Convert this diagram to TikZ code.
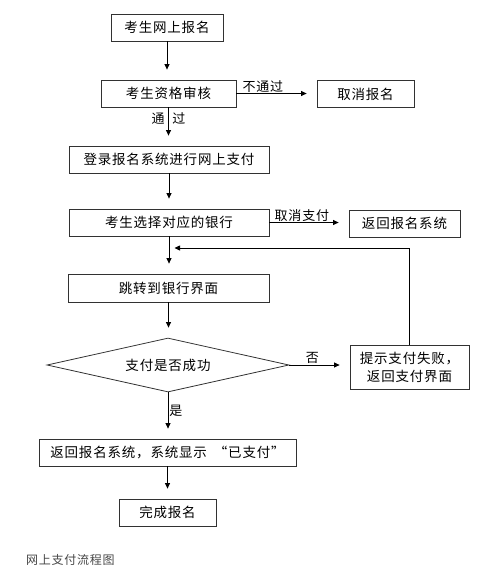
\documentclass[tikz,border=0pt]{standalone}
\usepackage{fontspec}
\setmainfont{Noto Sans CJK SC}[LetterSpace=6]
\usepackage{tikz}
\usetikzlibrary{shapes.geometric, arrows.meta, calc}
\definecolor{framegray}{RGB}{50,50,50}
\definecolor{captiongray}{RGB}{70,70,70}

\begin{document}
\begin{tikzpicture}[x=1pt, y=-1pt,
    box/.style={draw=framegray, line width=0.8pt, minimum height=27pt, inner sep=0pt, font=\fontsize{13.5}{18}\selectfont},
    flow/.style={-{Triangle[length=5.5pt,width=5pt]}, line width=0.8pt, shorten >=10pt},
    tag/.style={font=\fontsize{13}{15}\selectfont, inner sep=1pt}]
    \useasboundingbox (0,0) rectangle (500,568);

    % registration steps
    \node[box, minimum width=112pt] (signup) at (167,27.5) {考生网上报名};
    \node[box, minimum width=135pt] (audit) at (168.5,93.5) {考生资格审核};
    \node[box, minimum width=97pt] (cancel) at (365.5,94) {取消报名};
    \node[box, minimum width=200pt] (login) at (169,159.5) {登录报名系统进行网上支付};
    \node[box, minimum width=200pt] (bank) at (169,222.5) {考生选择对应的银行};
    \node[box, minimum width=111pt] (back) at (404.5,223.5) {返回报名系统};
    \node[box, minimum width=201pt, minimum height=28pt] (jump) at (168.5,288) {跳转到银行界面};

    % payment check
    \node[box, diamond, aspect=4.5, minimum width=242pt, minimum height=54pt] (check) at (168,365) {支付是否成功};
    \node[box, minimum width=119pt, minimum height=44pt, align=center] (fail) at (409.5,367) {提示支付失败，\\返回支付界面};
    \node[box, minimum width=257pt] (paid) at (167.5,452.5) {返回报名系统，系统显示\hspace{7pt}“已支付”\hspace{5pt}};
    \node[box, minimum width=97pt] (done) at (167.5,512.5) {完成报名};

    \node[anchor=west, text=captiongray, font=\fontsize{12}{14}\selectfont, inner sep=0pt] (caption) at (26,560) {网上支付流程图};

    % connectors
    \draw[flow] (signup.south) -- (signup.south |- audit.north);
    \draw[flow] (audit.east) -- node[tag, above, pos=0.33] {不通过} (audit.east -| cancel.west);
    \draw[flow] (audit.south) -- node[tag, pos=0.28] {通\hspace{8pt}过} (audit.south |- login.north);
    \draw[flow] (login.south) -- (login.south |- bank.north);
    \draw[flow] (bank.east) -- node[tag, above, pos=0.41] {取消支付} (bank.east -| back.west);
    \draw[flow] (bank.south) -- (bank.south |- jump.north);
    \draw[flow] (jump.south) -- (jump.south |- check.north);
    \draw[flow] (check.east) -- node[tag, above, pos=0.38] {否} (check.east -| fail.west);
    \draw[flow] (check.south) -- node[tag, right, pos=0.4] {是} (check.south |- paid.north);
    \draw[flow] (paid.south) -- (paid.south |- done.north);

    % back to the bank page
    \coordinate (merge) at (169,248);
    \draw[flow, shorten >=5.5pt] (fail.north) |- (merge);
\end{tikzpicture}
\end{document}
